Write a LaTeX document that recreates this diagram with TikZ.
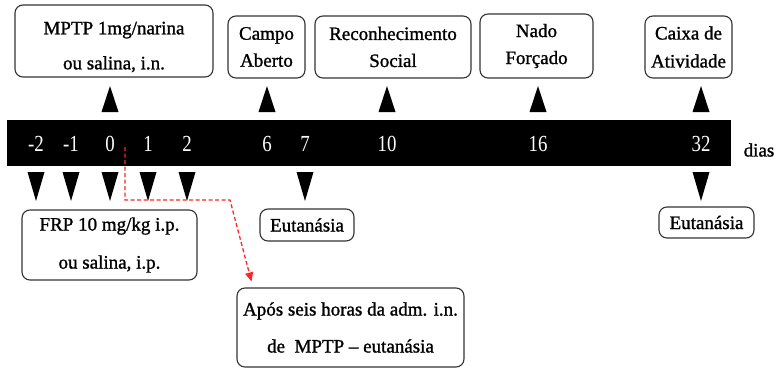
\documentclass[tikz,border=0pt]{standalone}
\usepackage{fontspec}
\setmainfont{Liberation Serif}
\newfontfamily\numfont[FakeStretch=0.82]{Liberation Serif}
\newfontfamily\boxfont[FakeBold=1.2,Ligatures=TeX]{Liberation Serif}
\usetikzlibrary{arrows.meta,calc}
\begin{document}
\begin{tikzpicture}[x=1pt,y=-1pt,
  box/.style={draw=black!80, line width=1.1pt, rounded corners=8pt, inner sep=0pt,
    align=center, font=\boxfont\fontsize{19}{22}\selectfont},
  boxtext/.style={inner sep=0pt, align=center, font=\boxfont\fontsize{19}{22}\selectfont},
  num/.style={text=white, font=\numfont\fontsize{23}{23}\selectfont, inner sep=0pt},
  pointer/.style={fill=black},
  redpath/.style={draw=red!85, line width=1.3pt, dash pattern=on 4pt off 2.5pt,
    -{Triangle[length=9pt,width=8pt]}}
]
\useasboundingbox (0,0) rectangle (776,369);

% time bar
\node[fill=black, minimum width=724pt, minimum height=46pt, inner sep=0pt] (bar) at (369,143) {};
\node[num] (nm2) at (36,144) {-2};
\node[num] (nm1) at (71,144) {-1};
\node[num] (n0) at (110,144) {0};
\node[num] (n1) at (148,144) {1};
\node[num] (n2) at (187,144) {2};
\node[num] (n6) at (267,144) {6};
\node[num] (n7) at (305,144) {7};
\node[num] (n10) at (387,144) {10};
\node[num] (n16) at (538,144) {16};
\node[num] (n32) at (701,144) {32};
\node[boxtext] (dias) at (759,150) {dias};

% pointers above
\foreach \n in {n0,n6,n10,n16,n32}
  \fill[pointer] ($(\n |- 0,112)+(-8.5,0)$) -- (\n |- 0,86) -- ($(\n |- 0,112)+(8.5,0)$) -- cycle;
% pointers below
\foreach \n in {nm2,nm1,n0,n1,n2,n7,n32}
  \fill[pointer] ($(\n |- 0,172)+(-8.5,0)$) -- (\n |- 0,201) -- ($(\n |- 0,172)+(8.5,0)$) -- cycle;

% upper boxes
\node[box, minimum width=198pt, minimum height=72pt] (mptp) at (114,41) {};
\node[boxtext] (mptptext) at (114,47) {MPTP 1mg/narina\\[13pt]ou salina, i.n.};
\node[box, minimum width=77pt, minimum height=62pt] (campo) at (266.5,47)
  {Campo\\[5pt]Aberto};
\node[box, minimum width=156pt, minimum height=62pt] (recon) at (393,47)
  {Reconhecimento\\[5pt]Social};
\node[box, minimum width=113pt, minimum height=64pt] (nado) at (536.5,46)
  {Nado\\[5pt]Forçado};
\node[box, minimum width=87pt, minimum height=62pt] (caixa) at (688.5,47)
  {Caixa de\\[6pt]Atividade};

% lower boxes
\node[box, minimum width=175pt, minimum height=70pt] (frp) at (109.5,245)
  {FRP 10 mg/kg i.p.\\[16pt]ou salina, i.p.};
\node[box, minimum width=94pt, minimum height=32pt] (eut7) at (307,225) {Eutanásia};
\node[box, minimum width=95pt, minimum height=31pt] (eut32) at (706.5,222.5) {Eutanásia};
\node[box, minimum width=227pt, minimum height=79pt] (apos) at (350.5,327.5)
  {Após seis horas da adm. i.n.\\[15pt]de~~MPTP – eutanásia};

% red dashed connector
\coordinate (rs) at (125,147);
\draw[redpath] (rs) -- (125,200) -- (230,200) -- ($(apos.north west)+(15,-6)$);
\end{tikzpicture}
\end{document}
